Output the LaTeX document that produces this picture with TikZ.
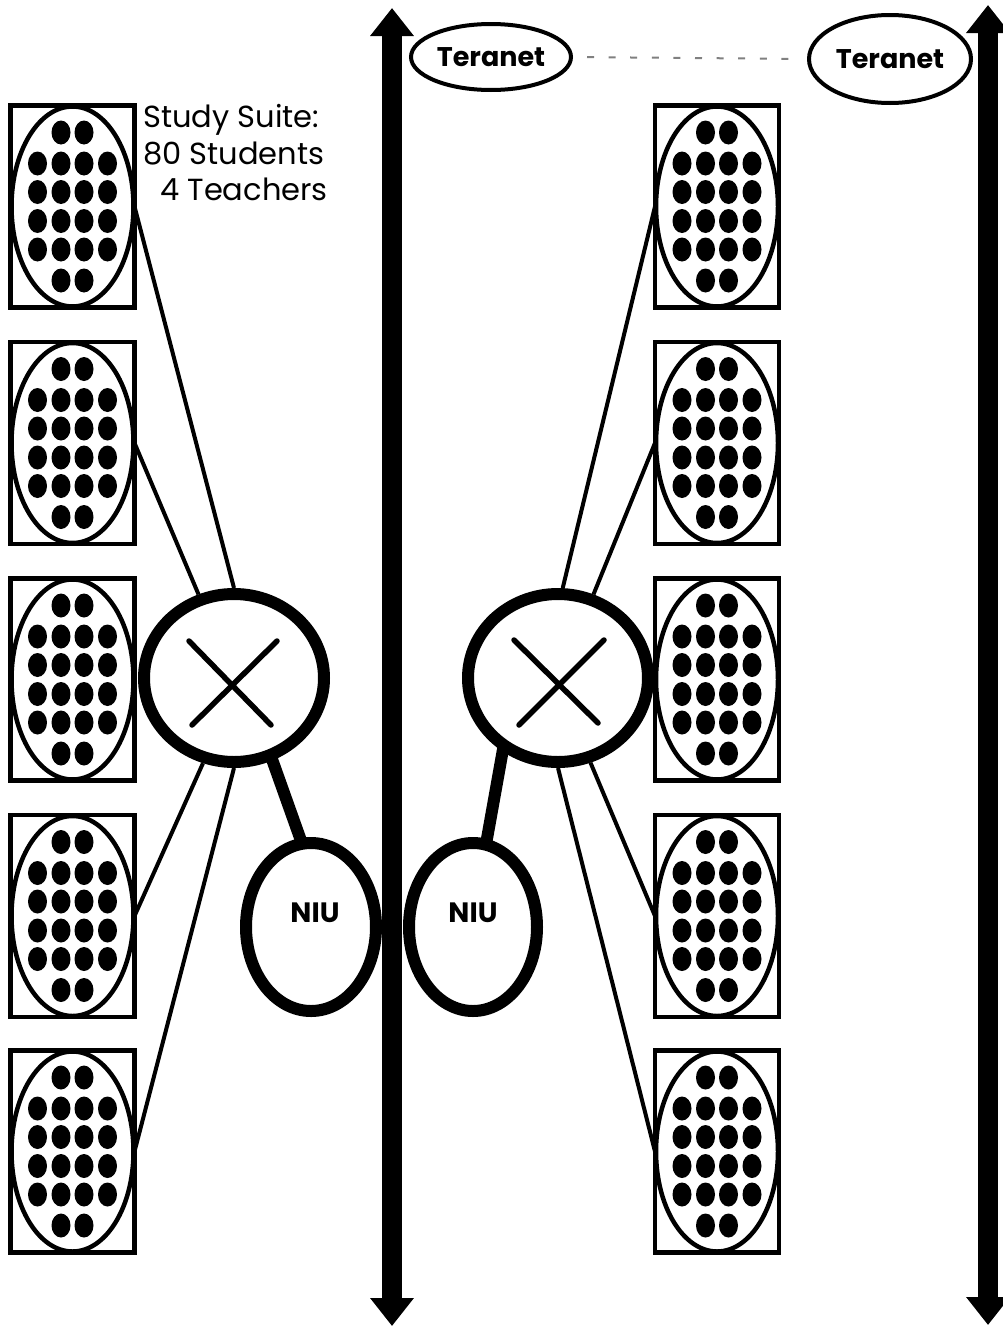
\documentclass[tikz,border=0pt]{standalone}
\usepackage{fontspec}
\setmainfont{Poppins}
\usetikzlibrary{arrows.meta,shapes.geometric}
\newcommand\suitedraw[2]{%
  \node[suitebox] (#1) at (#2) {};
  \draw[line width=4.5pt] (#1.center) ellipse [x radius=61, y radius=100];
  \foreach \dx in {-11.5,11.5}{\foreach \dy in {-74,74}{%
    \fill ([shift={(\dx,\dy)}]#1.center) ellipse [x radius=9.5, y radius=12];}}
  \foreach \dx in {-35,-11.5,11.5,35}{\foreach \dy in {-43,-14.5,14.5,43}{%
    \fill ([shift={(\dx,\dy)}]#1.center) ellipse [x radius=9.5, y radius=12];}}
}
\begin{document}
\begin{tikzpicture}[x=1pt,y=-1pt,
  suitebox/.style={draw,line width=4.5pt,minimum width=124pt,minimum height=202pt,inner sep=0pt,outer sep=0pt},
  bigarrow/.style={line width=20pt,{Triangle[length=28pt,width=42pt]}-{Triangle[length=28pt,width=42pt]}},
  teranet/.style={ellipse,inner sep=0pt,outer sep=0pt,font=\bfseries\fontsize{27}{32}\selectfont},
  ring/.style={line width=4pt},
  switchnode/.style={ellipse,draw,fill=white,line width=12pt,minimum width=180pt,minimum height=168pt,inner sep=0pt},
  niu/.style={ellipse,draw,fill=white,line width=12pt,minimum width=130pt,minimum height=168pt,inner sep=0pt},
  niutext/.style={inner sep=0pt,font=\bfseries\fontsize{28}{32}\selectfont},
  lbl/.style={anchor=base west,inner sep=0pt,font=\fontsize{30.5}{34}\selectfont},
  thinline/.style={line width=4pt},
  thickline/.style={line width=12pt,shorten <=-5pt,shorten >=-5pt},
  xline/.style={line width=5.5pt,line cap=round},
  dashline/.style={line width=2pt,gray,dash pattern=on 7pt off 14.6pt,shorten <=15pt,shorten >=15pt}
]
\useasboundingbox (0,0) rectangle (1003,1328);
% backbone arrows
\coordinate (a1t) at (392,8);
\coordinate (a1b) at (392,1326);
\coordinate (a2t) at (988,5);
\coordinate (a2b) at (988,1325);
\draw[bigarrow] (a1t) -- (a1b);
\draw[bigarrow] (a2t) -- (a2b);
% teranet
\node[teranet,minimum width=162pt,minimum height=68pt] (t1) at (491,57) {Teranet};
\draw[ring] (t1.center) ellipse [x radius=80, y radius=33];
\node[teranet,minimum width=164pt,minimum height=92pt] (t2) at (890,59) {Teranet};
\draw[ring] (t2.center) ellipse [x radius=81, y radius=44];
\draw[dashline] (t1.east) -- (t2.west);
% suites
\foreach \i/\y in {1/206.5,2/443,3/679.5,4/916,5/1151.5}{%
  \suitedraw{L\i}{72.5,\y}
  \suitedraw{R\i}{717,\y}
}
% label
\node[lbl] (l1) at (143,127) {Study Suite:};
\node[lbl] (l2) at (143,164) {80 Students};
\node[lbl] (l3) at (160,200) {4 Teachers};
% switches
\node[switchnode] (swL) at (234,678) {};
\node[switchnode] (swR) at (558,678) {};
\draw[thinline] (L1.east) -- (swL.90);
\draw[thinline] (L2.east) -- (swL.113);
\draw[thinline] (L4.east) -- (swL.250);
\draw[thinline] (L5.east) -- (swL.270);
\draw[thinline] (R1.west) -- (swR.87);
\draw[thinline] (R2.west) -- (swR.67);
\draw[thinline] (R4.west) -- (swR.-69);
\draw[thinline] (R5.west) -- (swR.270);
% X marks
\draw[xline] ([shift={(-45,-37)}]swL.center) -- ([shift={(37,47)}]swL.center);
\draw[xline] ([shift={(43,-37)}]swL.center) -- ([shift={(-42,47)}]swL.center);
\draw[xline] ([shift={(-44,-38)}]swR.center) -- ([shift={(40,45)}]swR.center);
\draw[xline] ([shift={(46,-38)}]swR.center) -- ([shift={(-39,47)}]swR.center);
% NIUs
\node[niu] (nL) at (311,927) {};
\node[niu,minimum width=128pt] (nR) at (473,927) {};
\node[niutext] (nLt) at (315,913) {NIU};
\node[niutext] (nRt) at (473,913) {NIU};
\draw[thickline] (swL.-65) -- (nL.97);
\draw[thickline] (swR.-127) -- (nR.81);
\end{tikzpicture}
\end{document}
